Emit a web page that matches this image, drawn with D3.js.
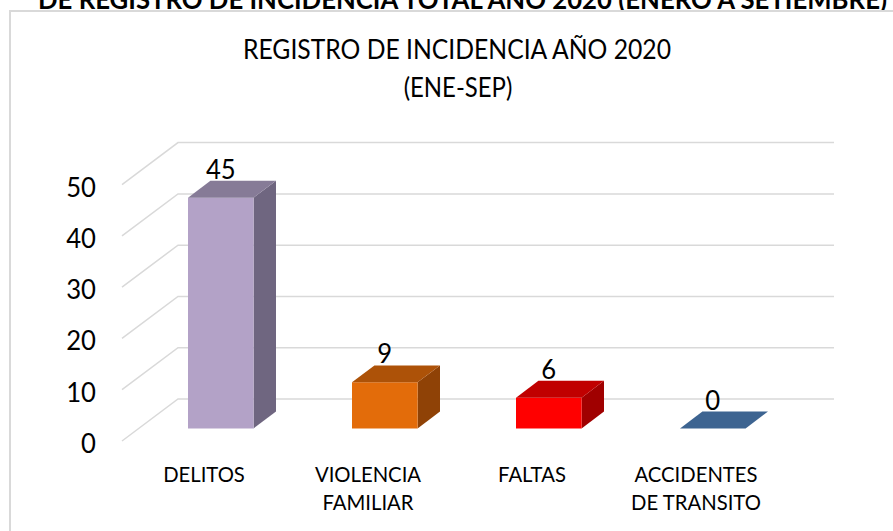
<!DOCTYPE html>
<html>
<head>
<meta charset="utf-8">
<script src="https://cdn.jsdelivr.net/npm/d3@7"></script>
<style>
  html, body { margin: 0; padding: 0; background: #ffffff; }
  svg { display: block; font-family: "Lato", "Liberation Sans", sans-serif; }
</style>
</head>
<body>
<svg id="chart" width="893" height="531"></svg>
<script>
// Incidencias registradas, enero a septiembre 2020
const categories = ["DELITOS", "VIOLENCIA\nFAMILIAR", "FALTAS", "ACCIDENTES\nDE TRANSITO"];
const values = [45, 9, 6, 0];
const yTicks = [0, 10, 20, 30, 40, 50];
const headerText = "DE REGISTRO DE INCIDENCIA TOTAL AÑO 2020 (ENERO A SETIEMBRE)";
const titleLines = ["REGISTRO DE INCIDENCIA AÑO 2020", "(ENE-SEP)"];

// front / top / side shades per bar
const faceColors = [
  { front: "#b3a2c7", top: "#867b97", side: "#6f6680" },
  { front: "#e36c0a", top: "#ad5208", side: "#8f4206" },
  { front: "#ff0000", top: "#c00000", side: "#a00000" },
  { front: "#4f81bd", top: "#3d6491", side: "#2f4d72" }
];

const svg = d3.select("#chart");

// squeeze a text horizontally so it reads like a narrow face
function condense(sel, factor) {
  sel.each(function () {
    const w = this.getComputedTextLength();
    d3.select(this).attr("textLength", w * factor).attr("lengthAdjust", "spacingAndGlyphs");
  });
}

// oblique 3D frame: floor front-left corner, full depth vector, plane width
const origin = { x: 122, y: 441 };
const depth = { x: 56, y: -42 };
const planeW = 656;
const barDepth = [0.3, 0.7];

const x = d3.scaleBand()
  .domain(categories)
  .range([0, planeW])
  .paddingInner(0.6)
  .paddingOuter(0.3);

const y = d3.scaleLinear().domain([0, 50]).range([0, 256.4]);

// project (horizontal position, value, depth fraction) onto the screen
function P(px, v, d) {
  return [origin.x + px + d * depth.x, origin.y - y(v) + d * depth.y];
}

// header line above the chart frame (partly cut by the page edge)
svg.append("text")
  .attr("x", 38).attr("y", 9)
  .attr("textLength", 849).attr("lengthAdjust", "spacingAndGlyphs")
  .attr("font-weight", "bold").attr("font-size", 27)
  .attr("fill", "#000")
  .text(headerText);

// chart frame
svg.append("rect")
  .attr("x", 10).attr("y", 11)
  .attr("width", 900).attr("height", 540)
  .attr("fill", "#fff")
  .attr("stroke", "#d9d9d9").attr("stroke-width", 2);

// title
const title = svg.append("g")
  .attr("text-anchor", "middle")
  .attr("font-size", 26)
  .attr("fill", "#000");
title.append("text").attr("x", 457).attr("y", 59).text(titleLines[0]).call(condense, 0.95);
title.append("text").attr("x", 458).attr("y", 97).text(titleLines[1]).call(condense, 0.92);

// gridlines: back wall horizontals and side-wall diagonals
const grid = svg.append("g").attr("stroke", "#d9d9d9").attr("stroke-width", 1.5).attr("fill", "none");
yTicks.forEach(t => {
  const a = P(0, t, 0), b = P(0, t, 1), c = P(planeW, t, 1);
  grid.append("path").attr("d", `M${a[0]},${a[1]}L${b[0]},${b[1]}L${c[0]},${c[1]}`);
});

// value axis labels
svg.append("g")
  .attr("font-size", 27)
  .attr("text-anchor", "end")
  .selectAll("text")
  .data(yTicks)
  .join("text")
  .attr("x", 96)
  .attr("y", d => P(0, d, 0)[1] + 12)
  .text(d => d)
  .call(condense, 0.95);

// bars as oblique prisms
const poly = pts => "M" + pts.map(p => p.join(",")).join("L") + "Z";
const bars = svg.append("g");
categories.forEach((c, i) => {
  const x0 = x(c), x1 = x(c) + x.bandwidth(), v = values[i];
  const [d0, d1] = barDepth;
  const col = faceColors[i];
  const g = bars.append("g");
  if (v > 0) {
    g.append("path").attr("fill", col.side)
      .attr("d", poly([P(x1, 0, d0), P(x1, v, d0), P(x1, v, d1), P(x1, 0, d1)]));
    g.append("path").attr("fill", col.front)
      .attr("d", poly([P(x0, 0, d0), P(x1, 0, d0), P(x1, v, d0), P(x0, v, d0)]));
  }
  g.append("path").attr("fill", col.top)
    .attr("d", poly([P(x0, v, d0), P(x1, v, d0), P(x1, v, d1), P(x0, v, d1)]));
});

// value labels
svg.append("g")
  .attr("font-size", 27)
  .attr("text-anchor", "middle")
  .selectAll("text")
  .data(categories)
  .join("text")
  .attr("x", (c) => P(x(c) + x.bandwidth() / 2, 0, barDepth[0])[0])
  .attr("y", (c, i) => P(0, values[i], barDepth[1])[1] - 2)
  .text((c, i) => values[i])
  .call(condense, 0.95);

// category labels on the front edge of the floor
const catG = svg.append("g")
  .attr("font-size", 21)
  .attr("text-anchor", "middle");
categories.forEach(c => {
  const cx = P(x(c) + x.bandwidth() / 2, 0, 0)[0];
  c.split("\n").forEach((line, k) => {
    catG.append("text").attr("x", cx).attr("y", 482 + k * 28).text(line).call(condense, 0.965);
  });
});
</script>
</body>
</html>
